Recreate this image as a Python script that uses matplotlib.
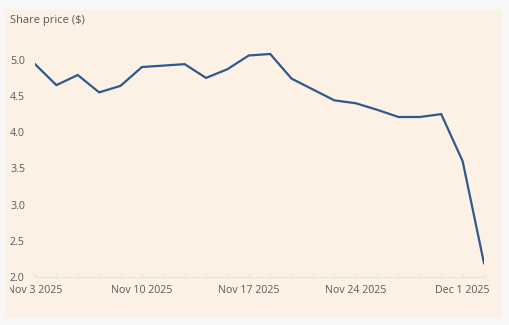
import matplotlib
matplotlib.use("Agg")
import matplotlib.pyplot as plt
from matplotlib.patches import Rectangle
from matplotlib.transforms import Bbox, TransformedBbox

dates = ["Nov 3", "Nov 4", "Nov 5", "Nov 6", "Nov 7",
         "Nov 10", "Nov 11", "Nov 12", "Nov 13", "Nov 14",
         "Nov 17", "Nov 18", "Nov 19", "Nov 20", "Nov 21",
         "Nov 24", "Nov 25", "Nov 26", "Nov 27", "Nov 28",
         "Dec 1", "Dec 2"]
prices = [4.94, 4.65, 4.79, 4.55, 4.64,
          4.90, 4.92, 4.94, 4.75, 4.87,
          5.06, 5.08, 4.74, 4.59, 4.44,
          4.40, 4.31, 4.21, 4.21, 4.25,
          3.60, 2.19]
tick_dates = ["Nov 3", "Nov 10", "Nov 17", "Nov 24", "Dec 1"]
tick_labels = ["Nov 3 2025", "Nov 10 2025", "Nov 17 2025", "Nov 24 2025", "Dec 1 2025"]
y_ticks = [2.0, 2.5, 3.0, 3.5, 4.0, 4.5, 5.0]
title = "Share price ($)"

W, H = 510, 325
fig = plt.figure(figsize=(W / 100, H / 100), dpi=100)
fig.patch.set_facecolor("#f7f7f7")
plt.rcParams["font.family"] = ["Open Sans", "DejaVu Sans"]

fig.add_artist(Rectangle((5 / W, 1 - 318 / H), 497 / W, 308 / H,
                         transform=fig.transFigure, facecolor="#fdf0e5",
                         edgecolor="none", zorder=0))

left, right = 35, 484
top_val, bottom_px = 5.3, 277
px_per_unit = 72.4
top_px = bottom_px - (top_val - 2.0) * px_per_unit
ax = fig.add_axes([left / W, 1 - bottom_px / H, (right - left) / W, (bottom_px - top_px) / H])
ax.set_facecolor("none")

x = list(range(len(dates)))
ax.plot(x, prices, color="#2d5a8c", lw=1.6, solid_joinstyle="miter", zorder=3)
ax.set_xlim(0, len(dates) - 1)
ax.set_ylim(2.0, top_val)

for s in ["top", "right", "left"]:
    ax.spines[s].set_visible(False)
ax.spines["bottom"].set_color("#ebe2d8")
ax.spines["bottom"].set_linewidth(0.8)

ax.set_yticks(y_ticks)
ax.set_yticklabels([f"{v:.1f}" for v in y_ticks])
ax.tick_params(axis="y", length=0, pad=18, labelsize=7.7, labelcolor="#5f5955")
for lab in ax.get_yticklabels():
    lab.set_horizontalalignment("left")

ax.set_xticks([dates.index(d) for d in tick_dates])
ax.set_xticklabels(tick_labels)
ax.set_xticks(x, minor=True)
ax.tick_params(axis="x", which="both", length=3, direction="in", color="#ece3da",
               labelsize=7.7, labelcolor="#5f5955", pad=6)

clip = TransformedBbox(Bbox.from_extents(10 / W, 0, 1, 1), fig.transFigure)
first = ax.get_xticklabels()[0]
first.set_clip_box(clip)
first.set_clip_on(True)

fig.text(10 / W, 1 - 20 / H, title, fontsize=8, color="#5f5955", va="center", ha="left")

fig.savefig("out.png", dpi=100, facecolor=fig.get_facecolor())
